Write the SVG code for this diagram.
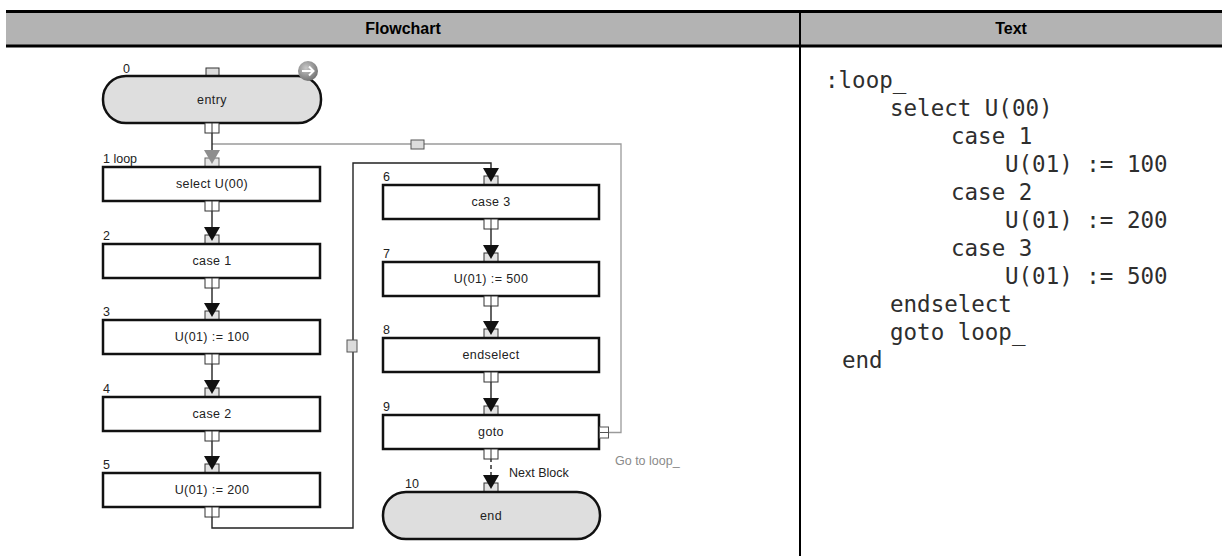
<svg xmlns="http://www.w3.org/2000/svg" xmlns:xlink="http://www.w3.org/1999/xlink" width="1222" height="556" viewBox="0 0 1222 556">
<style>
.hdr{font-family:"Liberation Sans",Arial,sans-serif;font-weight:bold;font-size:16px;fill:#000;text-anchor:middle}
.box{fill:#fff;stroke:#111;stroke-width:2.5}
.pill{fill:#dedede;stroke:#111;stroke-width:2.5}
.lbl{font-family:"Liberation Sans",Arial,sans-serif;font-size:12.5px;fill:#222;text-anchor:middle;letter-spacing:0.4px}
.num{font-family:"Liberation Sans",Arial,sans-serif;font-size:12.5px;fill:#222}
.code{font-family:"DejaVu Sans Mono","Liberation Mono",monospace;font-size:22.5px;fill:#2e2e2e;white-space:pre}
.conn{fill:none;stroke:#222;stroke-width:1.4}
.gconn{fill:none;stroke:#9a9a9a;stroke-width:1.3}
.gport{fill:#dcdcdc;stroke:#555;stroke-width:1}
</style>
<defs>
<g id="tp">
<rect x="-7" y="-9" width="14" height="9" fill="#e4e4e4" stroke="#333" stroke-width="1"/>
<polygon points="-8,-17 8,-17 0,-3" fill="#111"/>
</g>
<g id="tpg">
<rect x="-7" y="-9" width="14" height="9" fill="#e4e4e4" stroke="#666" stroke-width="1"/>
<polygon points="-8,-17 8,-17 0,-3" fill="#8e8e8e"/>
</g>
<g id="bp">
<rect x="-7" y="0" width="14" height="10" fill="#fff" stroke="#333" stroke-width="1"/>
<line x1="0" y1="0" x2="0" y2="10" stroke="#333" stroke-width="1"/>
</g>
<radialGradient id="ig" cx="0.4" cy="0.35" r="0.7">
<stop offset="0" stop-color="#c8c8c8"/>
<stop offset="1" stop-color="#6f6f6f"/>
</radialGradient>
</defs>

<g id="table">
<rect x="6" y="12" width="1216" height="33" fill="#b3b3b3"/>
<line x1="6" y1="11.5" x2="1222" y2="11.5" stroke="#000" stroke-width="3"/>
<line x1="6" y1="46" x2="1222" y2="46" stroke="#000" stroke-width="3"/>
<line x1="800" y1="11" x2="800" y2="556" stroke="#000" stroke-width="2"/>
<text class="hdr" x="403" y="34">Flowchart</text>
<text class="hdr" x="1011" y="34">Text</text>
</g>

<g id="connectors">
<path class="gconn" d="M609,432.5 H621 V144 H212"/>
<rect class="gport" x="411" y="140" width="13" height="9"/>
<path class="conn" d="M212,133 V150"/>
<path class="conn" d="M212,211 V227"/>
<path class="conn" d="M212,288 V303"/>
<path class="conn" d="M212,364 V380"/>
<path class="conn" d="M212,441 V456"/>
<path class="conn" d="M212,517 V528 H353 V163 H491 V168"/>
<rect class="gport" x="347" y="340" width="10" height="12"/>
<path class="conn" d="M491,229 V245"/>
<path class="conn" d="M491,306 V321"/>
<path class="conn" d="M491,382 V398"/>
<path class="conn" d="M491,458 V475" stroke-dasharray="4,3"/>
<text class="num" x="509" y="477">Next Block</text>
<text class="num" x="615" y="465" style="fill:#8a8a8a">Go to loop_</text>
</g>

<g id="node0">
<rect x="206" y="68" width="13" height="8" fill="#dcdcdc" stroke="#333" stroke-width="1"/>
<rect class="pill" x="103" y="76" width="218" height="47" rx="23" ry="23"/>
<text class="num" x="123" y="73">0</text>
<text class="lbl" x="212" y="104">entry</text>
<use xlink:href="#bp" x="212" y="123"/>
<circle cx="308" cy="71" r="10" fill="url(#ig)"/>
<path d="M302,71 H313 M309,66.5 L313.5,71 L309,75.5" fill="none" stroke="#fff" stroke-width="2"/>
</g>

<g id="node1">
<use xlink:href="#tpg" x="212" y="167"/>
<rect class="box" x="103" y="167" width="217" height="34"/>
<text class="num" x="103" y="163">1 loop</text>
<text class="lbl" x="212" y="188">select U(00)</text>
<use xlink:href="#bp" x="212" y="201"/>
</g>

<g id="node2">
<use xlink:href="#tp" x="212" y="244"/>
<rect class="box" x="103" y="244" width="217" height="34"/>
<text class="num" x="103" y="240">2</text>
<text class="lbl" x="212" y="265">case 1</text>
<use xlink:href="#bp" x="212" y="278"/>
</g>

<g id="node3">
<use xlink:href="#tp" x="212" y="320"/>
<rect class="box" x="103" y="320" width="217" height="34"/>
<text class="num" x="103" y="316">3</text>
<text class="lbl" x="212" y="341">U(01) := 100</text>
<use xlink:href="#bp" x="212" y="354"/>
</g>

<g id="node4">
<use xlink:href="#tp" x="212" y="397"/>
<rect class="box" x="103" y="397" width="217" height="34"/>
<text class="num" x="103" y="393">4</text>
<text class="lbl" x="212" y="418">case 2</text>
<use xlink:href="#bp" x="212" y="431"/>
</g>

<g id="node5">
<use xlink:href="#tp" x="212" y="473"/>
<rect class="box" x="103" y="473" width="217" height="34"/>
<text class="num" x="103" y="469">5</text>
<text class="lbl" x="212" y="494">U(01) := 200</text>
<use xlink:href="#bp" x="212" y="507"/>
</g>

<g id="node6">
<use xlink:href="#tp" x="491" y="185"/>
<rect class="box" x="383" y="185" width="216" height="34"/>
<text class="num" x="383" y="181">6</text>
<text class="lbl" x="491" y="206">case 3</text>
<use xlink:href="#bp" x="491" y="219"/>
</g>

<g id="node7">
<use xlink:href="#tp" x="491" y="262"/>
<rect class="box" x="383" y="262" width="216" height="34"/>
<text class="num" x="383" y="258">7</text>
<text class="lbl" x="491" y="283">U(01) := 500</text>
<use xlink:href="#bp" x="491" y="296"/>
</g>

<g id="node8">
<use xlink:href="#tp" x="491" y="338"/>
<rect class="box" x="383" y="338" width="216" height="34"/>
<text class="num" x="383" y="334">8</text>
<text class="lbl" x="491" y="359">endselect</text>
<use xlink:href="#bp" x="491" y="372"/>
</g>

<g id="node9">
<use xlink:href="#tp" x="491" y="415"/>
<rect class="box" x="383" y="415" width="216" height="34"/>
<text class="num" x="383" y="411">9</text>
<text class="lbl" x="491" y="436">goto</text>
<use xlink:href="#bp" x="491" y="449"/>
<rect x="599.5" y="427" width="9" height="11" fill="#fff" stroke="#555" stroke-width="1"/>
<line x1="599.5" y1="432.5" x2="608.5" y2="432.5" stroke="#555" stroke-width="1"/>
</g>

<g id="node10">
<use xlink:href="#tp" x="491" y="492"/>
<rect class="pill" x="383" y="492" width="217" height="47" rx="23" ry="23"/>
<text class="num" x="405" y="488">10</text>
<text class="lbl" x="491" y="520">end</text>
</g>

<g id="code">
<text class="code" x="825" y="88">:loop_</text>
<text class="code" x="890" y="116">select U(00)</text>
<text class="code" x="951" y="144">case 1</text>
<text class="code" x="1005" y="172">U(01) := 100</text>
<text class="code" x="951" y="200">case 2</text>
<text class="code" x="1005" y="228">U(01) := 200</text>
<text class="code" x="951" y="256">case 3</text>
<text class="code" x="1005" y="284">U(01) := 500</text>
<text class="code" x="890" y="312">endselect</text>
<text class="code" x="890" y="340">goto loop_</text>
<text class="code" x="842" y="368">end</text>
</g>
</svg>
